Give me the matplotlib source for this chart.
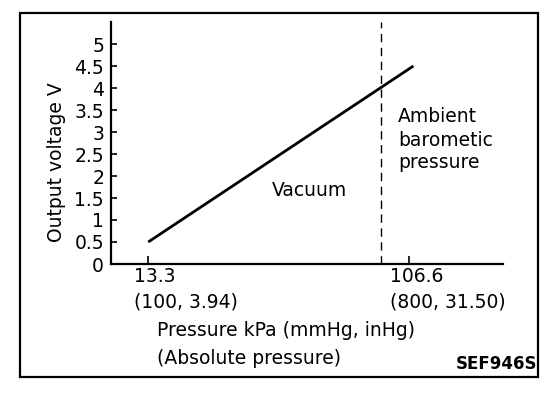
import matplotlib
matplotlib.use("Agg")
import matplotlib.pyplot as plt
import matplotlib.transforms as mtransforms
from matplotlib.patches import Rectangle

# Data
line_x = [13.3, 108.0]          # kPa
line_y = [0.5, 4.5]             # V
ambient_x = 96.5                # kPa (dashed line)
y_ticks = [0, 0.5, 1, 1.5, 2, 2.5, 3, 3.5, 4, 4.5, 5]
y_tick_labels = ["0", "0.5", "1", "1.5", "2", "2.5", "3", "3.5", "4", "4.5", "5"]
x_ticks = [13.3, 106.6]
x_tick_top = ["13.3", "106.6"]
x_tick_bottom = ["(100, 3.94)", "(800, 31.50)"]

plt.rcParams['font.family'] = ['DejaVu Sans']
FS = 13.5
W, H = 560, 396
fig = plt.figure(figsize=(W / 100, H / 100), dpi=100)

def fx(px):
    return px / W

def fy(py):
    return 1 - py / H

# outer border
fig.patches.append(Rectangle((fx(20), fy(377)), fx(538) - fx(20), fy(13) - fy(377),
                             transform=fig.transFigure, fill=False, lw=1.6, ec='black'))

ax = fig.add_axes([fx(111), fy(264), fx(503) - fx(111), fy(22) - fy(264)])
ax.set_xlim(0, 140)
ax.set_ylim(0, 5.5)
for s in ['top', 'right']:
    ax.spines[s].set_visible(False)
for s in ['left', 'bottom']:
    ax.spines[s].set_linewidth(1.6)

ax.plot(line_x, line_y, color='black', lw=2.0, solid_capstyle='butt')
ax.axvline(ambient_x, color='black', lw=1.0, linestyle=(0, (6, 4)))

ax.set_yticks(y_ticks)
ax.set_yticklabels(y_tick_labels, fontsize=FS)
ax.tick_params(axis='y', direction='in', length=4, width=1.2, pad=5)
ax.set_xticks(x_ticks)
ax.set_xticklabels([])
ax.tick_params(axis='x', direction='in', length=6, width=1.2)

offsets = [-14, -19]
for xv, top, bot, off in zip(x_ticks, x_tick_top, x_tick_bottom, offsets):
    tr = ax.transData + mtransforms.ScaledTranslation(off / 100, 0, fig.dpi_scale_trans)
    trb = mtransforms.blended_transform_factory(tr, fig.transFigure)
    ax.text(xv, fy(277), top, transform=trb, ha='left', va='center', fontsize=FS)
    ax.text(xv, fy(302), bot, transform=trb, ha='left', va='center', fontsize=FS)

fig.text(fx(157), fy(331), "Pressure kPa (mmHg, inHg)", ha='left', va='center', fontsize=FS)
fig.text(fx(157), fy(359), "(Absolute pressure)", ha='left', va='center', fontsize=FS)
fig.text(fx(537), fy(364), "SEF946S", ha='right', va='center', fontsize=12, fontweight='bold')
fig.text(fx(57), fy(162), "Output voltage V", rotation=90, ha='center', va='center', fontsize=FS)

fig.text(fx(309), fy(190), "Vacuum", ha='center', va='center', fontsize=FS)
fig.text(fx(398), fy(117), "Ambient", ha='left', va='center', fontsize=FS)
fig.text(fx(398), fy(140), "barometic", ha='left', va='center', fontsize=FS)
fig.text(fx(398), fy(163), "pressure", ha='left', va='center', fontsize=FS)

fig.savefig("out.png", dpi=100)
